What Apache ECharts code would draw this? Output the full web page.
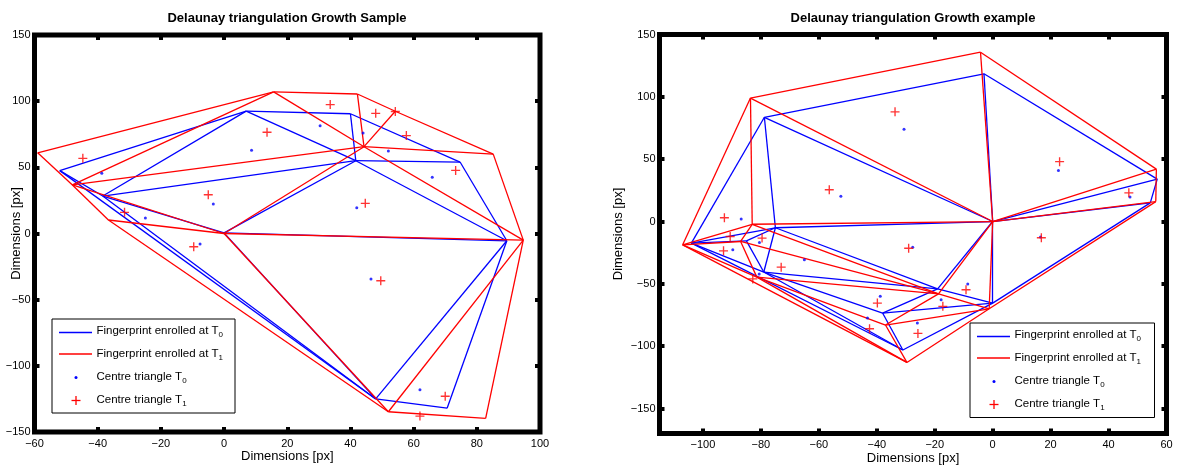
<!DOCTYPE html>
<html>
<head>
<meta charset="utf-8">
<title>Delaunay triangulation growth</title>
<script src="https://cdn.jsdelivr.net/npm/echarts@6/dist/echarts.min.js"></script>
<style>
  html, body { margin: 0; padding: 0; background: #fff; }
  #chart { width: 1178px; height: 466px; }
</style>
</head>
<body>
<div id="chart"></div>
<script>
// ---------- Left panel: "Growth Sample" ----------
// Minutiae positions (px) of the fingerprint enrolled at T0
const sampleT0Vertices = [
  [-52, 47.5], [7, 92.5], [40, 90.5], [41.7, 55], [74.7, 54],
  [-38.4, 28.3], [0, 0.5], [89.5, -5.5], [48, -125], [70.6, -132]
];
// Triangle edges at T0 (pairs of vertex indices)
const sampleT0Edges = [
  [0, 1], [0, 5], [0, 8], [5, 8], [5, 1], [5, 3], [5, 6], [1, 2], [1, 3], [2, 3],
  [2, 4], [3, 4], [3, 6], [3, 7], [4, 7], [6, 7], [6, 8], [7, 8], [7, 9], [8, 9]
];
// Minutiae positions (px) of the fingerprint enrolled at T1
const sampleT1Vertices = [
  [-59, 61], [15.7, 107], [42.2, 105.4], [54.2, 92.4], [85.2, 60], [44.3, 65.6],
  [-48, 36.7], [-36.6, 10.2], [0, 0], [94.7, -5], [52, -134.7], [82.8, -139.7]
];
const sampleT1Edges = [
  [0, 1], [0, 6], [6, 1], [6, 5], [6, 8], [6, 7], [7, 8], [7, 10], [1, 2], [1, 5],
  [2, 5], [2, 3], [3, 4], [3, 5], [5, 4], [5, 9], [5, 8], [4, 9], [8, 9], [8, 10],
  [10, 9], [10, 11], [11, 9]
];
// Triangle centres
const sampleT0Centres = [
  [-38.7, 45.5], [8.7, 63], [30.4, 81.5], [44, 76], [52, 62.4], [65.9, 42.5],
  [42, 19.5], [-3.4, 22.3], [-24.9, 11.7], [-7.6, -8], [46.5, -34.4], [62, -118]
];
const sampleT1Centres = [
  [-44.7, 56.8], [13.6, 76.5], [33.6, 97.4], [48, 90.8], [54.2, 92.2], [57.7, 74],
  [73.3, 47.7], [44.7, 22.8], [-5, 29.3], [-31.5, 16], [-9.6, -10], [49.6, -35.7],
  [70, -123], [62, -138]
];
const sampleXRange = [-60, 100];
const sampleYRange = [-150, 150];
const sampleXTicks = [-60, -40, -20, 0, 20, 40, 60, 80, 100];
const sampleYTicks = [-150, -100, -50, 0, 50, 100, 150];

// ---------- Right panel: "Growth example" ----------
const exampleT0Vertices = [
  [0, 0], [-3, 118.5], [-78.8, 83.6], [56.8, 34], [54.4, 15], [-75, -5], [-104, -17.3],
  [-85, -15.5], [-79, -40.5], [-19, -54], [-38, -73.4], [-31, -103], [0, -65.4]
];
const exampleT0Edges = [
  [1, 2], [1, 3], [1, 0], [2, 0], [2, 5], [2, 6], [3, 4], [3, 0], [4, 0], [4, 12],
  [5, 0], [5, 6], [5, 7], [5, 8], [5, 9], [6, 7], [6, 8], [6, 11], [7, 8], [8, 9],
  [8, 10], [8, 11], [9, 0], [9, 10], [9, 12], [10, 11], [10, 12], [11, 12], [12, 0]
];
const exampleT1Vertices = [
  [0, 0], [-4.2, 135.8], [-83.6, 99], [56.5, 42], [56.3, 16], [-83, -2.2], [-107, -18.7],
  [-87, -16], [-81.4, -44.6], [-18.7, -58], [-37, -83], [-29.6, -113], [-1.2, -70]
];
const exampleT1Edges = [
  [1, 2], [1, 3], [1, 0], [2, 0], [2, 5], [2, 6], [3, 4], [3, 0], [4, 0], [4, 12],
  [5, 0], [5, 6], [5, 7], [5, 9], [6, 7], [6, 8], [6, 11], [7, 8], [7, 9], [8, 9],
  [8, 10], [8, 11], [9, 0], [9, 10], [9, 12], [10, 11], [10, 12], [11, 12], [12, 0]
];
const exampleT0Centres = [
  [-30.6, 74], [-52.4, 20.2], [22.7, 41], [47.4, 19.6], [-86.8, 2], [16.5, -12.5],
  [-89.7, -22.7], [-80.5, -16.8], [-80.6, -42], [-65, -30.7], [-27.6, -20.6],
  [-38.8, -60], [-43.2, -77.4], [-26, -81.4], [-17.8, -62.7], [-8.6, -50]
];
const exampleT1Centres = [
  [-33.7, 88], [-56.4, 25.5], [23.1, 48], [47, 23], [-92.6, 3], [16.8, -13],
  [-90.6, -12], [-92.9, -23.5], [-79.6, -13.3], [-82.8, -46], [-73, -36.6],
  [-29, -21.4], [-39.8, -65.4], [-42.5, -86], [-25.8, -89.7], [-17.2, -68], [-9.2, -54.7]
];
const exampleXRange = [-115, 60];
const exampleYRange = [-170, 150];
const exampleXTicks = [-100, -80, -60, -40, -20, 0, 20, 40, 60];
const exampleYTicks = [-150, -100, -50, 0, 50, 100, 150];

const titles = ['Delaunay triangulation Growth Sample', 'Delaunay triangulation Growth example'];
const axisTitle = 'Dimensions [px]';
const legendLabels = [
  ['Fingerprint enrolled at T', '0'],
  ['Fingerprint enrolled at T', '1'],
  ['Centre triangle T', '0'],
  ['Centre triangle T', '1']
];

// ---------- drawing ----------
const FONT = '"Liberation Sans", Arial, Helvetica, sans-serif';
const BLUE = '#0000ff';
const RED = '#ff0000';
const PLUS = 'path://M0,4.25H10V5.75H0Z M4.25,0H5.75V10H4.25Z';

const chart = echarts.init(document.getElementById('chart'), null, { renderer: 'canvas' });

const fmt = v => (v < 0 ? '\u2212' + Math.abs(v) : String(v));
const toSegments = (verts, edges) => edges.map(([a, b]) => ({ coords: [verts[a], verts[b]] }));

const grids = [
  { left: 34.5, top: 35, width: 505.5, height: 397 },
  { left: 659.5, top: 34.5, width: 507, height: 399 }
].map(g => Object.assign(g, {
  show: true, borderColor: '#000', borderWidth: 5, backgroundColor: '#fff',
  containLabel: false, outerBoundsMode: 'none'
}));

function tick(values) {
  return { show: true, inside: true, length: 5, customValues: values, lineStyle: { color: '#000', width: 4 } };
}

function xAxis(gridIndex, position, range, ticks, main) {
  return {
    type: 'value', gridIndex, position, min: range[0], max: range[1],
    axisLine: { show: false, onZero: false }, splitLine: { show: false },
    axisTick: tick(ticks),
    axisLabel: { show: main, customValues: ticks, margin: 6, fontSize: 11, color: '#000', fontFamily: FONT, formatter: fmt },
    name: main ? axisTitle : '', nameLocation: 'middle', nameGap: 18, nameMoveOverlap: false,
    nameTextStyle: { fontSize: 13, color: '#000', fontFamily: FONT }
  };
}
function yAxis(gridIndex, position, range, ticks, main, gap) {
  return {
    type: 'value', gridIndex, position, min: range[0], max: range[1],
    axisLine: { show: false, onZero: false }, splitLine: { show: false },
    axisTick: tick(ticks),
    axisLabel: { show: main, customValues: ticks, margin: 4, fontSize: 11, color: '#000', fontFamily: FONT, formatter: fmt },
    name: main ? axisTitle : '', nameLocation: 'middle', nameGap: gap, nameMoveOverlap: false,
    nameTextStyle: { fontSize: 13, color: '#000', fontFamily: FONT }
  };
}

function panelSeries(axisIndex, t0v, t0e, t1v, t1e, c0, c1) {
  const common = { xAxisIndex: axisIndex, yAxisIndex: axisIndex, silent: true, animation: false };
  return [
    Object.assign({ type: 'lines', coordinateSystem: 'cartesian2d', name: 'T0',
      data: toSegments(t0v, t0e), lineStyle: { color: BLUE, width: 1.3, opacity: 1 } }, common),
    Object.assign({ type: 'lines', coordinateSystem: 'cartesian2d', name: 'T1',
      data: toSegments(t1v, t1e), lineStyle: { color: RED, width: 1.3, opacity: 1 } }, common),
    Object.assign({ type: 'scatter', name: 'C0', data: c0, symbol: 'circle', symbolSize: 3,
      itemStyle: { color: BLUE } }, common),
    Object.assign({ type: 'scatter', name: 'C1', data: c1, symbol: PLUS, symbolSize: 9,
      itemStyle: { color: RED } }, common)
  ];
}

function legendBox(x, y, w, h) {
  const els = [];
  els.push({ type: 'rect', z: 100, shape: { x, y, width: w, height: h },
    style: { fill: '#fff', stroke: '#000', lineWidth: 1 } });
  const lineRows = [13.5, 35];
  [BLUE, RED].forEach((c, i) => els.push({ type: 'line', z: 101,
    shape: { x1: x + 7, y1: y + lineRows[i], x2: x + 40, y2: y + lineRows[i] },
    style: { stroke: c, lineWidth: 1.3 } }));
  els.push({ type: 'circle', z: 101, shape: { cx: x + 24, cy: y + 58.5, r: 1.5 }, style: { fill: BLUE } });
  els.push({ type: 'line', z: 101, shape: { x1: x + 19.5, y1: y + 81.5, x2: x + 28.5, y2: y + 81.5 },
    style: { stroke: RED, lineWidth: 1.3 } });
  els.push({ type: 'line', z: 101, shape: { x1: x + 24, y1: y + 77, x2: x + 24, y2: y + 86 },
    style: { stroke: RED, lineWidth: 1.3 } });
  const textRows = [13, 35.5, 59, 82];
  legendLabels.forEach(([main, sub], i) => els.push({
    type: 'text', z: 101, x: x + 44.5, y: y + textRows[i],
    style: {
      text: '{m|' + main + '}{s|' + sub + '}',
      align: 'left', verticalAlign: 'middle',
      rich: {
        m: { fontSize: 11.5, fontFamily: FONT, fill: '#000', lineHeight: 14, verticalAlign: 'top' },
        s: { fontSize: 8, fontFamily: FONT, fill: '#000', lineHeight: 10, verticalAlign: 'bottom' }
      }
    }
  }));
  return els;
}

const option = {
  animation: false,
  backgroundColor: '#fff',
  title: [
    { text: titles[0], left: 287, top: 12, textAlign: 'center', padding: 0,
      textStyle: { fontSize: 13, fontWeight: 'bold', color: '#000', fontFamily: FONT } },
    { text: titles[1], left: 913, top: 12, textAlign: 'center', padding: 0,
      textStyle: { fontSize: 13, fontWeight: 'bold', color: '#000', fontFamily: FONT } }
  ],
  grid: grids,
  xAxis: [
    xAxis(0, 'bottom', sampleXRange, sampleXTicks, true),
    xAxis(0, 'top', sampleXRange, sampleXTicks, false),
    xAxis(1, 'bottom', exampleXRange, exampleXTicks, true),
    xAxis(1, 'top', exampleXRange, exampleXTicks, false)
  ],
  yAxis: [
    yAxis(0, 'left', sampleYRange, sampleYTicks, true, 11.5),
    yAxis(0, 'right', sampleYRange, sampleYTicks, false, 0),
    yAxis(1, 'left', exampleYRange, exampleYTicks, true, 35),
    yAxis(1, 'right', exampleYRange, exampleYTicks, false, 0)
  ],
  series: [
    ...panelSeries(0, sampleT0Vertices, sampleT0Edges, sampleT1Vertices, sampleT1Edges, sampleT0Centres, sampleT1Centres),
    ...panelSeries(2, exampleT0Vertices, exampleT0Edges, exampleT1Vertices, exampleT1Edges, exampleT0Centres, exampleT1Centres)
  ],
  graphic: [
    ...legendBox(52, 319, 183, 94),
    ...legendBox(970, 323, 184.5, 94.5)
  ]
};

chart.setOption(option);
</script>
</body>
</html>
